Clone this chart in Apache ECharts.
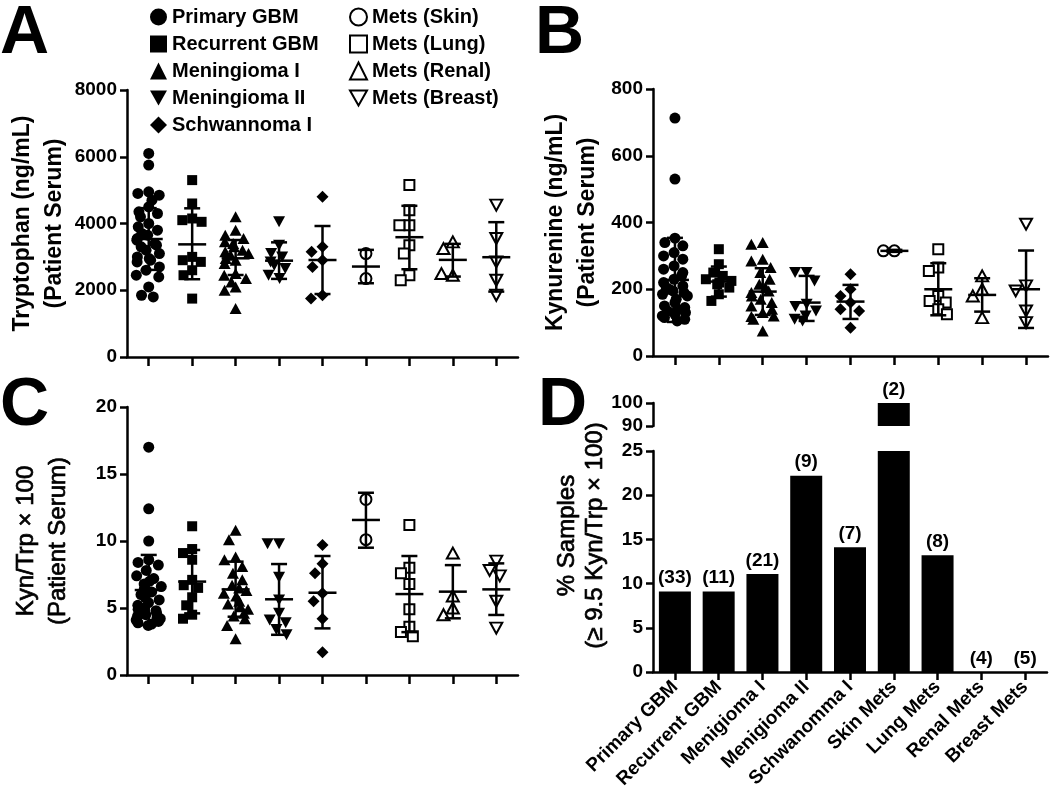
<!DOCTYPE html>
<html>
<head>
<meta charset="utf-8">
<script src="https://cdn.jsdelivr.net/npm/echarts@6/dist/echarts.min.js"></script>
<style>
  html, body { margin: 0; padding: 0; background: #fff; }
  #chart { width: 1050px; height: 798px; }
</style>
</head>
<body>
<div id="chart"></div>
<script>
// groups shown in panels A-C
const groups = ['Primary GBM', 'Recurrent GBM', 'Meningioma I', 'Meningioma II', 'Schwannoma I',
  'Mets (Skin)', 'Mets (Lung)', 'Mets (Renal)', 'Mets (Breast)'];
// category labels of panel D (spelled as in the figure)
const barCategories = ['Primary GBM', 'Recurrent GBM', 'Menigioma I', 'Menigioma II', 'Schwanomma I',
  'Skin Mets', 'Lung Mets', 'Renal Mets', 'Breast Mets'];

// A: Tryptophan (ng/mL)
const trpPrimary = [6100, 5750, 4950, 4900, 4850, 4700, 4500, 4350, 4300, 4200, 4000, 3900, 3800, 3700, 3650, 3550, 3500,
  3400, 3350, 3300, 3200, 3100, 3000, 2950, 2900, 2850, 2700, 2600, 2450, 2400, 2100, 1850, 1800];
const trpRecurrent = [5300, 4600, 4150, 4100, 4050, 3000, 2900, 2850, 2600, 2450, 1750];
const trpMenI = [4200, 3800, 3650, 3550, 3450, 3400, 3300, 3200, 3150, 3100, 3050, 2950, 2900, 2800, 2500, 2450, 2350,
  2250, 2100, 2000, 1450];
const trpMenII = [4050, 3350, 3100, 3000, 2850, 2750, 2650, 2450, 2350];
const trpSchw = [4800, 3300, 3150, 2900, 2700, 1850, 1750];
const trpSkin = [3100, 2350];
const trpLung = [5150, 4400, 3950, 3950, 3350, 3100, 2450, 2300];
const trpRenal = [3450, 3250, 2450, 2500];
const trpBreast = [4550, 3550, 2850, 2300, 1850];
const trpMean = [3535, 3375, 2957, 2886, 2906, 2710, 3590, 2910, 2990];
const trpLow = [2610, 2330, 2457, 2340, 1887, 2210, 2630, 2410, 1960];
const trpHigh = [4460, 4455, 3505, 3435, 3925, 3210, 4530, 3390, 4040];

// B: Kynurenine (ng/mL)
const kynPrimary = [713, 530, 353, 340, 330, 310, 300, 290, 270, 260, 250, 240, 230, 220, 210, 205, 200, 195, 190, 185,
  180, 170, 160, 150, 145, 140, 135, 130, 125, 120, 115, 110, 105];
const kynRecurrent = [320, 275, 250, 240, 230, 225, 220, 215, 205, 185, 165];
const kynMenI = [340, 335, 290, 285, 265, 250, 230, 215, 205, 195, 190, 180, 170, 160, 150, 140, 130, 120, 118, 110, 75];
const kynMenII = [250, 250, 225, 155, 148, 135, 120, 110, 105];
const kynSchw = [245, 200, 180, 160, 140, 135, 85];
const kynSkin = [315, 315];
const kynLung = [320, 265, 255, 180, 165, 160, 140, 125];
const kynRenal = [240, 200, 180, 115];
const kynBreast = [395, 210, 195, 135, 100];
const kynMean = [228, 223, 193, 160, 163, 315, 200, 183, 200];
const kynLow = [102, 178, 123, 105, 111, 312, 122, 133, 84];
const kynHigh = [354, 268, 263, 240, 213, 318, 278, 233, 316];

// C: Kyn/Trp x 100
const ratioPrimary = [17.0, 12.4, 10.0, 8.6, 8.4, 8.2, 7.8, 7.4, 7.2, 7.0, 6.8, 6.6, 6.4, 6.2, 6.0, 5.8, 5.6, 5.4, 5.2,
  5.0, 4.9, 4.8, 4.7, 4.6, 4.5, 4.4, 4.3, 4.2, 4.1, 4.0, 3.9, 3.8, 3.7];
const ratioRecurrent = [11.1, 9.4, 9.1, 8.6, 7.1, 6.7, 6.5, 5.8, 5.2, 4.5, 4.2];
const ratioMenI = [10.8, 10.1, 8.8, 8.6, 8.1, 7.6, 7.1, 6.7, 6.5, 6.3, 6.1, 5.9, 5.5, 5.3, 5.1, 4.9, 4.6, 4.4, 4.2, 3.7, 2.7];
const ratioMenII = [9.8, 9.8, 7.3, 5.6, 4.6, 4.1, 3.9, 3.4, 3.0];
const ratioSchw = [9.7, 8.3, 7.6, 6.1, 5.5, 4.2, 1.7];
const ratioSkin = [13.1, 10.1];
const ratioLung = [11.2, 8.0, 7.6, 6.8, 4.9, 3.6, 3.2, 2.9];
const ratioRenal = [9.1, 5.9, 5.0, 4.5];
const ratioBreast = [8.5, 7.8, 7.4, 5.5, 3.5];
const ratioMean = [6.34, 6.97, 6.39, 5.65, 6.14, 11.57, 6.04, 6.22, 6.39];
const ratioLow = [3.72, 4.6, 4.35, 3.0, 3.48, 9.5, 3.2, 4.23, 4.48];
const ratioHigh = [8.96, 9.33, 8.46, 8.28, 8.88, 13.6, 8.88, 8.2, 8.33];

// D: % samples >= 9.5 Kyn/Trp x 100, with group sizes
const pctSamples = [9.1, 9.1, 11.1, 22.2, 14.1, 100, 13.2, 0, 0];
const sampleCounts = [33, 11, 21, 9, 7, 2, 8, 4, 5];

const FONT = '"Liberation Sans", Arial, sans-serif';
const downTri = 'path://M0,0L10,0L5,8.7Z';
const symbols = ['circle', 'rect', 'triangle', downTri, 'diamond', 'circle', 'rect', 'triangle', downTri];
const symbolSizes = [11, 10, [12, 11], [12, 11], 12, 11, 10, [12, 11], [12, 11]];

function pointStyle (i) {
  return i < 5
    ? { color: '#000', opacity: 1 }
    : { color: '#fff', borderColor: '#000', borderWidth: 2, opacity: 1 };
}

function scatterSeries (idx, groupData) {
  return groups.map((name, i) => ({
    type: 'scatter',
    name: name,
    xAxisIndex: idx,
    yAxisIndex: idx,
    symbol: symbols[i],
    symbolSize: symbolSizes[i],
    itemStyle: pointStyle(i),
    data: groupData[i].map(v => [i, v]),
    z: 2
  }));
}

function errorBarSeries (idx, mean, low, high) {
  return {
    type: 'custom',
    xAxisIndex: idx,
    yAxisIndex: idx,
    z: 5,
    silent: true,
    encode: { x: 0, y: [1, 2, 3] },
    data: mean.map((m, i) => [i, m, low[i], high[i]]),
    renderItem: function (params, api) {
      const c = api.coord([api.value(0), api.value(1)]);
      const lo = api.coord([api.value(0), api.value(2)]);
      const hi = api.coord([api.value(0), api.value(3)]);
      const st = { stroke: '#000', lineWidth: 2.5 };
      return {
        type: 'group',
        children: [
          { type: 'line', shape: { x1: c[0] - 14, y1: c[1], x2: c[0] + 14, y2: c[1] }, style: st },
          { type: 'line', shape: { x1: c[0], y1: lo[1], x2: c[0], y2: hi[1] }, style: st },
          { type: 'line', shape: { x1: c[0] - 8, y1: lo[1], x2: c[0] + 8, y2: lo[1] }, style: st },
          { type: 'line', shape: { x1: c[0] - 8, y1: hi[1], x2: c[0] + 8, y2: hi[1] }, style: st }
        ]
      };
    }
  };
}

const axisLine = { show: true, lineStyle: { color: '#000', width: 2.5 } };
const axisTick = { show: true, length: 7, lineStyle: { color: '#000', width: 2.5 } };
const tickLabel = {
  color: '#000', fontSize: 19, fontWeight: 'bold', fontFamily: FONT, margin: 10,
  formatter: v => String(v)
};

function catAxis (gridIndex) {
  return {
    type: 'category',
    gridIndex: gridIndex,
    data: groups,
    axisLine: axisLine,
    axisTick: Object.assign({ alignWithLabel: true, interval: 0 }, axisTick, { length: 9 }),
    axisLabel: { show: false, interval: 0 },
    jitter: 26,
    jitterOverlap: false,
    jitterMargin: 0
  };
}

function valAxis (gridIndex, max, interval, name, bold, gap) {
  return {
    type: 'value',
    gridIndex: gridIndex,
    min: 0,
    max: max,
    interval: interval,
    splitLine: { show: false },
    axisLine: axisLine,
    axisTick: axisTick,
    axisLabel: tickLabel,
    name: name,
    nameLocation: 'middle',
    nameGap: gap,
    nameTextStyle: {
      color: '#000',
      fontSize: bold ? 23 : 24,
      fontWeight: bold ? 'bold' : 'normal',
      fontFamily: FONT,
      lineHeight: 32,
      textBorderColor: '#000',
      textBorderWidth: bold ? 0 : 0.7
    }
  };
}

function letter (text, left, top) {
  return {
    text: text,
    left: left,
    top: top,
    padding: 0,
    textStyle: { fontSize: 68, fontWeight: 'bold', color: '#000', fontFamily: FONT }
  };
}

const legendText = { color: '#000', fontSize: 20, fontWeight: 'bold', fontFamily: FONT, lineHeight: 18 };

const option = {
  animation: false,
  backgroundColor: '#fff',
  textStyle: { fontFamily: FONT },
  title: [letter('A', 0, 0), letter('B', 535, 0), letter('C', 0, 372), letter('D', 538, 372)],
  legend: [
    {
      data: groups.slice(0, 5),
      orient: 'vertical',
      left: 145,
      top: 2,
      itemWidth: 17,
      itemHeight: 17,
      itemGap: 7,
      selectedMode: false,
      textStyle: legendText
    },
    {
      data: groups.slice(5),
      orient: 'vertical',
      left: 344,
      top: 2,
      itemWidth: 17,
      itemHeight: 17,
      itemGap: 7,
      selectedMode: false,
      textStyle: legendText
    }
  ],
  grid: [
    { left: 127, top: 90, width: 391, height: 267 },
    { left: 653, top: 89, width: 395, height: 267 },
    { left: 127, top: 407, width: 391, height: 268 },
    { left: 653, top: 451, width: 394, height: 221 },
    { left: 653, top: 403, width: 394, height: 23 }
  ],
  xAxis: [
    catAxis(0),
    catAxis(1),
    catAxis(2),
    {
      type: 'category',
      gridIndex: 3,
      data: barCategories,
      axisLine: axisLine,
      axisTick: Object.assign({ alignWithLabel: true, interval: 0 }, axisTick, { length: 8 }),
      axisLabel: {
        rotate: 45,
        interval: 0,
        margin: 12,
        color: '#000',
        fontSize: 19,
        fontWeight: 'bold',
        fontFamily: FONT
      }
    },
    { type: 'category', gridIndex: 4, data: barCategories, show: false }
  ],
  yAxis: [
    valAxis(0, 8000, 2000, 'Tryptophan (ng/mL)\n(Patient Serum)', true, 54),
    valAxis(1, 800, 200, 'Kynurenine (ng/mL)\n(Patient Serum)', true, 49),
    valAxis(2, 20, 5, 'Kyn/Trp \u00d7 100\n(Patient Serum)', false, 53),
    Object.assign(valAxis(3, 25, 5, '% Samples\n(\u2265 9.5 Kyn/Trp \u00d7 100)', false, 44), {
      nameTextStyle: {
        color: '#000', fontSize: 24, fontFamily: FONT, lineHeight: 28, padding: [0, 0, 0, 52],
        textBorderColor: '#000', textBorderWidth: 0.7
      }
    }),
    {
      type: 'value',
      gridIndex: 4,
      min: 90,
      max: 100,
      interval: 10,
      splitLine: { show: false },
      axisLine: axisLine,
      axisTick: axisTick,
      axisLabel: tickLabel
    }
  ],
  series: [
    ...scatterSeries(0, [trpPrimary, trpRecurrent, trpMenI, trpMenII, trpSchw, trpSkin, trpLung, trpRenal, trpBreast]),
    errorBarSeries(0, trpMean, trpLow, trpHigh),
    ...scatterSeries(1, [kynPrimary, kynRecurrent, kynMenI, kynMenII, kynSchw, kynSkin, kynLung, kynRenal, kynBreast]),
    errorBarSeries(1, kynMean, kynLow, kynHigh),
    ...scatterSeries(2, [ratioPrimary, ratioRecurrent, ratioMenI, ratioMenII, ratioSchw, ratioSkin, ratioLung, ratioRenal, ratioBreast]),
    errorBarSeries(2, ratioMean, ratioLow, ratioHigh),
    {
      type: 'bar',
      xAxisIndex: 3,
      yAxisIndex: 3,
      barWidth: 32,
      clip: true,
      itemStyle: { color: '#000' },
      data: pctSamples,
      label: {
        show: true,
        position: 'top',
        distance: 4,
        color: '#000',
        fontSize: 19,
        fontWeight: 'bold',
        fontFamily: FONT,
        formatter: p => (p.value > 25 ? '' : '(' + sampleCounts[p.dataIndex] + ')')
      }
    },
    {
      type: 'bar',
      xAxisIndex: 4,
      yAxisIndex: 4,
      barWidth: 32,
      clip: true,
      itemStyle: { color: '#000' },
      data: pctSamples.map(v => (v >= 90 ? v : '-')),
      label: {
        show: true,
        position: 'top',
        distance: 4,
        color: '#000',
        fontSize: 19,
        fontWeight: 'bold',
        fontFamily: FONT,
        formatter: p => '(' + sampleCounts[p.dataIndex] + ')'
      }
    }
  ]
};

const myChart = echarts.init(document.getElementById('chart'));
myChart.setOption(option);
</script>
</body>
</html>
